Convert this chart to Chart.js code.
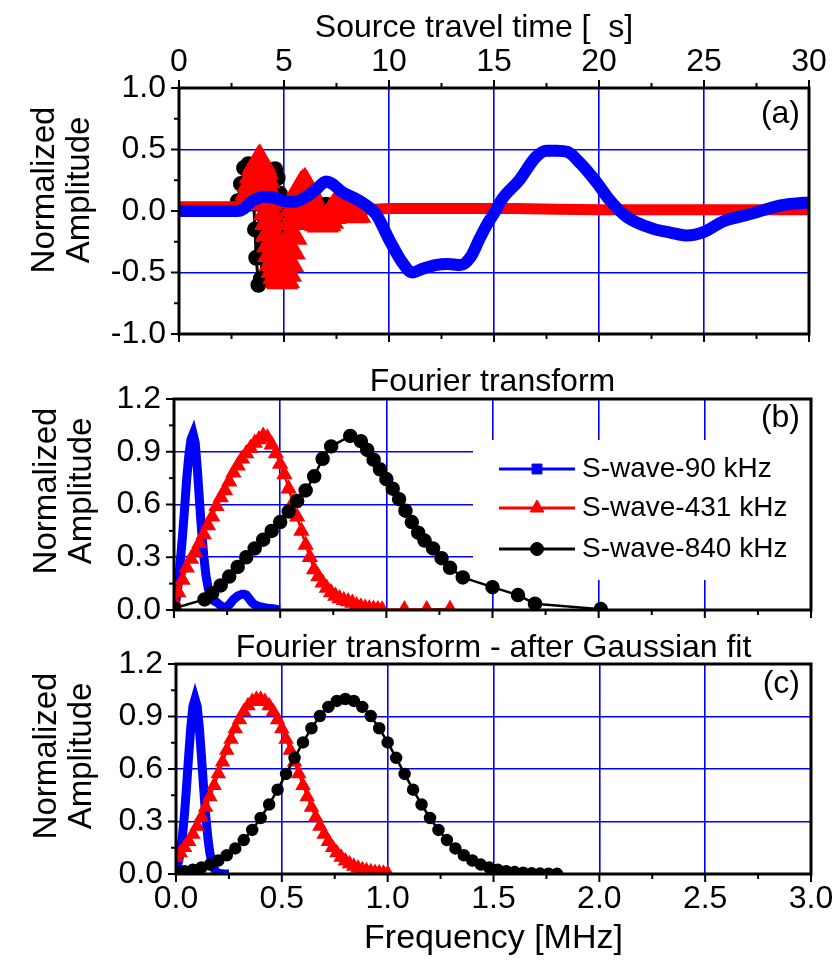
<!DOCTYPE html>
<html><head><meta charset="utf-8">
<script src="https://cdn.jsdelivr.net/npm/chart.js@4.4.1/dist/chart.umd.min.js"></script>
<style>
html,body{margin:0;padding:0;background:#fff;}
#wrap{position:relative;width:837px;height:960px;overflow:hidden;background:#fff;}
#wrap canvas{position:absolute;left:0;top:0;}
</style></head><body>
<div id="wrap">
<canvas id="ca" width="837" height="960"></canvas>
<canvas id="cb" width="837" height="960"></canvas>
<canvas id="cc" width="837" height="960"></canvas>
</div>
<script>
// ---------- DATA ----------
const seriesNames = ['S-wave-90 kHz','S-wave-431 kHz','S-wave-840 kHz'];
const yTitleLines = ['Normalized', 'Amplitude'];
const timeTitle = 'Source travel time [  s]';
const timeTicks = [0,5,10,15,20,25,30];
const freqTicks = [0,0.5,1.0,1.5,2.0,2.5,3.0];

// Panel (a): source travel time [µs] vs normalized amplitude
const sigA90 = [[0,0.0],[1,0.0],[2,0.0],[2.8,0.0],[3.1,0.02],[3.4,0.07],[3.7,0.1],[4.0,0.115],[4.5,0.11],[5.0,0.08],[5.5,0.075],[6.0,0.11],[6.5,0.17],[7.0,0.24],[7.3,0.22],[7.8,0.15],[8.3,0.11],[8.8,0.06],[9.4,-0.03],[10.0,-0.23],[10.6,-0.41],[11.1,-0.5],[11.6,-0.47],[12.2,-0.44],[12.8,-0.43],[13.4,-0.44],[13.9,-0.37],[14.3,-0.23],[14.7,-0.1],[15.0,-0.02],[15.4,0.1],[16.2,0.25],[17.0,0.44],[17.5,0.49],[18.0,0.49],[18.5,0.48],[19.1,0.39],[19.9,0.23],[20.5,0.09],[21.3,-0.045],[22.6,-0.145],[23.4,-0.175],[24.2,-0.2],[25.0,-0.17],[25.9,-0.085],[26.6,-0.05],[27.3,-0.02],[28.5,0.04],[29.3,0.06],[30,0.07]];
const sigA431 = [[0,0.035],[1,0.035],[2,0.035],[2.8,0.035],[3.2,0.05],[3.3,0.1],[3.4,0.16],[3.5,0.23],[3.6,0.3],[3.7,0.36],[3.78,0.39],[3.85,0.40],[3.92,0.37],[4.0,0.33],[4.08,0.26],[4.15,0.18],[4.22,0.08],[4.28,0.0],[4.33,-0.08],[4.38,-0.17],[4.43,-0.26],[4.48,-0.34],[4.55,-0.41],[4.63,-0.47],[4.72,-0.52],[4.82,-0.55],[4.92,-0.56],[5.0,-0.55],[5.1,-0.5],[5.2,-0.42],[5.28,-0.32],[5.36,-0.2],[5.44,-0.08],[5.52,0.03],[5.6,0.1],[5.7,0.15],[5.8,0.18],[5.9,0.2],[6.0,0.21],[6.1,0.18],[6.2,0.13],[6.3,0.07],[6.4,0.02],[6.5,-0.03],[6.6,-0.07],[6.72,-0.09],[6.85,-0.1],[6.97,-0.09],[7.1,-0.07],[7.22,-0.03],[7.35,0.0],[7.48,0.03],[7.6,0.05],[7.72,0.04],[7.85,0.02],[7.97,0.0],[8.1,-0.02],[8.25,-0.025],[8.4,-0.02],[8.6,0.0],[8.8,0.01],[10,0.02],[12,0.02],[14,0.02],[16,0.02],[18,0.015],[20,0.01],[22,0.01],[24,0.01],[26,0.01],[28,0.01],[30,0.01]];
const sigA840 = [[0,0.0],[1,0.0],[2,0.0],[2.6,0.0],[2.8,0.08],[2.95,0.22],[3.1,0.35],[3.3,0.38],[3.45,0.3],[3.55,0.1],[3.62,-0.15],[3.68,-0.38],[3.78,-0.6],[3.9,-0.55],[3.98,-0.3],[4.05,-0.05],[4.15,0.12],[4.3,0.24],[4.45,0.31],[4.58,0.34],[4.7,0.27],[4.8,0.14],[4.9,0.0],[5.0,-0.13],[5.12,-0.15],[5.3,-0.08],[5.6,-0.02],[5.9,-0.05],[6.3,0.0],[6.7,0.04],[7.0,0.05],[7.4,0.0],[7.8,-0.03],[8.3,-0.01],[9,0.0],[11,-0.01],[13,-0.01],[15,-0.01],[17,-0.01],[19,-0.01],[21,-0.01],[23,-0.01],[25,-0.01],[27,-0.01],[29,-0.01],[30,-0.01]];

// Panel (b): Fourier transform, frequency [MHz]
const ftB90 = [[0,0.02],[0.01,0.06],[0.02,0.15],[0.03,0.28],[0.04,0.42],[0.05,0.58],[0.06,0.75],[0.07,0.88],[0.08,0.97],[0.09,1.0],[0.1,0.95],[0.11,0.8],[0.12,0.62],[0.13,0.45],[0.14,0.31],[0.15,0.2],[0.16,0.13],[0.17,0.08],[0.18,0.06],[0.19,0.05],[0.2,0.045],[0.21,0.035],[0.22,0.025],[0.23,0.018],[0.24,0.015],[0.25,0.02],[0.26,0.03],[0.27,0.045],[0.28,0.06],[0.29,0.07],[0.3,0.08],[0.31,0.085],[0.32,0.09],[0.33,0.09],[0.34,0.085],[0.35,0.07],[0.36,0.055],[0.37,0.04],[0.38,0.03],[0.39,0.025],[0.4,0.02],[0.42,0.015],[0.44,0.01],[0.46,0.008],[0.48,0.005],[0.5,0.003]];
const ftB431 = [[0,0.05],[0.02,0.10],[0.04,0.17],[0.06,0.24],[0.08,0.29],[0.1,0.33],[0.12,0.38],[0.14,0.43],[0.16,0.48],[0.18,0.53],[0.2,0.59],[0.22,0.64],[0.24,0.68],[0.26,0.73],[0.28,0.78],[0.3,0.82],[0.32,0.86],[0.34,0.89],[0.36,0.92],[0.38,0.95],[0.4,0.97],[0.42,0.99],[0.44,0.98],[0.46,0.94],[0.48,0.89],[0.5,0.83],[0.52,0.77],[0.54,0.69],[0.56,0.61],[0.58,0.53],[0.6,0.45],[0.62,0.37],[0.64,0.30],[0.66,0.23],[0.68,0.19],[0.7,0.155],[0.72,0.125],[0.74,0.10],[0.76,0.08],[0.78,0.065],[0.8,0.055],[0.82,0.048],[0.84,0.04],[0.86,0.025],[0.88,0.018],[0.9,0.012],[0.92,0.008],[0.94,0.005],[0.96,0.003],[0.98,0.002],[1.085,0.003],[1.19,0.003],[1.3,0.005]];
const ftB840 = [[0,0.01],[0.144,0.06],[0.18,0.095],[0.22,0.14],[0.26,0.19],[0.3,0.245],[0.34,0.30],[0.38,0.35],[0.42,0.40],[0.46,0.45],[0.5,0.50],[0.54,0.56],[0.58,0.62],[0.62,0.68],[0.66,0.76],[0.7,0.86],[0.74,0.93],[0.83,0.99],[0.88,0.96],[0.91,0.91],[0.94,0.855],[0.97,0.80],[1.0,0.745],[1.03,0.69],[1.06,0.63],[1.09,0.565],[1.12,0.50],[1.15,0.44],[1.18,0.395],[1.22,0.35],[1.26,0.295],[1.3,0.24],[1.36,0.185],[1.5,0.13],[1.62,0.085],[1.7,0.036],[2.01,0.005]];

// Panel (c): Fourier transform after Gaussian fit
const fitC90 = [[0,0.03],[0.01,0.063],[0.02,0.12],[0.03,0.211],[0.04,0.339],[0.05,0.501],[0.06,0.678],[0.07,0.841],[0.08,0.958],[0.09,1.0],[0.1,0.958],[0.11,0.841],[0.12,0.678],[0.13,0.501],[0.14,0.339],[0.15,0.211],[0.16,0.12],[0.17,0.063],[0.18,0.03],[0.19,0.013],[0.2,0.005],[0.21,0.002],[0.22,0.001],[0.23,0],[0.24,0],[0.25,0]];
const fitC431 = [[0,0.096],[0.02,0.121],[0.04,0.151],[0.06,0.186],[0.08,0.227],[0.1,0.273],[0.12,0.325],[0.14,0.381],[0.16,0.442],[0.18,0.506],[0.2,0.573],[0.22,0.64],[0.24,0.707],[0.26,0.77],[0.28,0.83],[0.3,0.882],[0.32,0.927],[0.34,0.962],[0.36,0.986],[0.38,0.998],[0.4,0.998],[0.42,0.986],[0.44,0.962],[0.46,0.927],[0.48,0.882],[0.5,0.83],[0.52,0.77],[0.54,0.707],[0.56,0.64],[0.58,0.573],[0.6,0.506],[0.62,0.442],[0.64,0.381],[0.66,0.325],[0.68,0.273],[0.7,0.227],[0.72,0.186],[0.74,0.151],[0.76,0.121],[0.78,0.096],[0.8,0.075],[0.82,0.058],[0.84,0.044],[0.86,0.033],[0.88,0.025],[0.9,0.018],[0.92,0.013],[0.94,0.009],[0.96,0.007],[0.98,0.005],[1.0,0.003]];
const fitC840 = [[0,0.011],[0.04,0.016],[0.08,0.025],[0.12,0.037],[0.16,0.054],[0.2,0.077],[0.24,0.107],[0.28,0.146],[0.32,0.194],[0.36,0.252],[0.4,0.32],[0.44,0.397],[0.48,0.482],[0.52,0.572],[0.56,0.664],[0.6,0.752],[0.64,0.833],[0.68,0.903],[0.72,0.955],[0.76,0.989],[0.8,1.0],[0.84,0.989],[0.88,0.955],[0.92,0.903],[0.96,0.833],[1.0,0.752],[1.04,0.664],[1.08,0.572],[1.12,0.482],[1.16,0.397],[1.2,0.32],[1.24,0.252],[1.28,0.194],[1.32,0.146],[1.36,0.107],[1.4,0.077],[1.44,0.054],[1.48,0.037],[1.52,0.025],[1.56,0.016],[1.6,0.011],[1.64,0.007],[1.68,0.004],[1.72,0.0025],[1.76,0.0015],[1.8,0.001]];

// ---------- STYLE / HELPERS ----------
const FONT = "'Liberation Sans', Arial, Helvetica, sans-serif";
Chart.defaults.font.family = FONT;
Chart.defaults.color = '#000';
const BLUE = '#0000ff', RED = '#ff0000', BLACK = '#000000', GRID = '#0000ff';
const TICKFONT = {size: 32};

function pts(arr){ return arr.map(p => ({x: p[0], y: p[1]})); }
// markers / thin line only inside the oscillating part of panel (a)
function markerIn(lo, hi, r){ return ctx => (ctx.raw && ctx.raw.x >= lo && ctx.raw.x <= hi) ? r : 0; }
function segWidth(lo, hi, thin, thick){ return ctx => (ctx.p0.parsed.x >= lo && ctx.p1.parsed.x <= hi) ? thin : thick; }

function yScale(min, max, step, width){
  return {
    type: 'linear', position: 'left', min: min, max: max,
    ticks: {stepSize: step, font: TICKFONT, padding: 13, color: '#000', autoSkip: false,
            callback: v => Number(v).toFixed(1)},
    grid: {color: GRID, lineWidth: 1.6, drawTicks: false},
    border: {display: false},
    title: {display: false},
    afterFit(s){ s.width = width; s.paddingTop = 0; s.paddingBottom = 0; }
  };
}

function framePlugin(cfg){
  return {
    id: 'frame' + cfg.letter.replace(/\W/g, ''),
    beforeDatasetsDraw(chart){
      if (cfg.box){
        const c = chart.ctx; c.save(); c.fillStyle = '#fff';
        c.fillRect(cfg.box[0], cfg.box[1], cfg.box[2], cfg.box[3]); c.restore();
      }
    },
    afterDatasetsDraw(chart){
      const c = chart.ctx, a = chart.chartArea;
      c.save();
      if (cfg.legend){
        cfg.legend.forEach((L, i) => {
          const ds = chart.data.datasets[i];
          c.strokeStyle = L.color; c.lineWidth = 3;
          c.beginPath(); c.moveTo(L.x0, L.y); c.lineTo(L.x1, L.y); c.stroke();
          c.fillStyle = L.color; c.strokeStyle = L.color; c.lineWidth = 1;
          Chart.helpers.drawPoint(c, {pointStyle: L.style, radius: L.r, rotation: 0, borderWidth: 1}, (L.x0 + L.x1) / 2, L.y);
          c.fillStyle = '#000'; c.font = '28px ' + FONT; c.textAlign = 'left'; c.textBaseline = 'middle';
          c.fillText(ds.label, L.tx, L.y);
        });
      }
      c.fillStyle = '#000';
      c.font = '32px ' + FONT; c.textAlign = 'right'; c.textBaseline = 'middle';
      c.fillText(cfg.letter, cfg.lx, cfg.ly);
      if (cfg.topTitle){
        c.font = '32px ' + FONT; c.textAlign = 'center'; c.textBaseline = 'middle';
        c.fillText(cfg.topTitle, cfg.ttx, cfg.tty);
      }
      c.save();
      c.font = '33px ' + FONT; c.textAlign = 'center'; c.textBaseline = 'middle';
      c.translate(cfg.ytx, cfg.yty); c.rotate(-Math.PI / 2);
      yTitleLines.forEach((t, i) => c.fillText(t, 0, i * 35));
      c.restore();
      c.strokeStyle = '#000'; c.lineWidth = 2;
      cfg.ticks.forEach(t => {
        const sc = chart.scales[t.scale];
        const n = Math.round((t.max - t.min) / t.step);
        for (let i = 0; i <= n; i++){
          const v = t.min + i * t.step;
          const len = (i % 2 === 0) ? 8 : 5;
          const p = sc.getPixelForValue(v);
          c.beginPath();
          if (t.side === 'left'){ c.moveTo(a.left, p); c.lineTo(a.left - len, p); }
          else if (t.side === 'bottom'){ c.moveTo(p, a.bottom); c.lineTo(p, a.bottom + len); }
          else { c.moveTo(p, a.top); c.lineTo(p, a.top - len); }
          c.stroke();
        }
      });
      c.lineWidth = 3;
      c.strokeRect(a.left, a.top, a.right - a.left, a.bottom - a.top);
      c.restore();
    }
  };
}

const commonPlugins = {legend: {display: false}, tooltip: {enabled: false}};

// ---------- PANEL (a) ----------
new Chart(document.getElementById('ca'), {
  type: 'line',
  data: {datasets: [
    {label: seriesNames[0], data: pts(sigA90), borderColor: BLUE, backgroundColor: BLUE, borderWidth: 12, pointRadius: 0, cubicInterpolationMode: 'monotone', fill: false},
    {label: seriesNames[1], data: pts(sigA431), borderColor: RED, backgroundColor: RED, borderWidth: 11,
     segment: {borderWidth: segWidth(3.2, 8.8, 2.5, 11)},
     pointStyle: 'triangle', pointRadius: markerIn(3.3, 8.4, 7.5), pointBackgroundColor: RED, pointBorderColor: RED, fill: false},
    {label: seriesNames[2], data: pts(sigA840), borderColor: BLACK, backgroundColor: BLACK, borderWidth: 3, pointStyle: 'circle', pointRadius: markerIn(2.7, 8.3, 6.5), pointBackgroundColor: BLACK, pointBorderColor: BLACK, fill: false}
  ]},
  options: {
    responsive: false, animation: false, events: [],
    layout: {padding: {left: 0, right: 28, top: 0, bottom: 626}},
    plugins: commonPlugins,
    scales: {
      x: {type: 'linear', position: 'top', min: timeTicks[0], max: timeTicks[timeTicks.length - 1],
          ticks: {stepSize: 5, font: TICKFONT, padding: 7, autoSkip: false, callback: v => String(v)},
          grid: {color: GRID, lineWidth: 1.6, drawTicks: false}, border: {display: false},
          title: {display: false},
          afterFit(s){ s.height = 88; s.paddingLeft = 0; s.paddingRight = 0; }},
      y: yScale(-1, 1, 0.5, 179)
    }
  },
  plugins: [framePlugin({letter: '(a)', lx: 800, ly: 114, topTitle: timeTitle, ttx: 474, tty: 28,
    ytx: 45, yty: 190,
    ticks: [{scale: 'y', side: 'left', min: -1, max: 1, step: 0.25},
            {scale: 'x', side: 'top', min: 0, max: 30, step: 2.5},
            {scale: 'x', side: 'bottom', min: 0, max: 30, step: 2.5}]})]
});

// ---------- PANEL (b) ----------
new Chart(document.getElementById('cb'), {
  type: 'line',
  data: {datasets: [
    {label: seriesNames[0], data: pts(ftB90), order: 2, borderColor: BLUE, backgroundColor: BLUE, borderWidth: 9, pointStyle: 'rect', pointRadius: 0, fill: false},
    {label: seriesNames[1], data: pts(ftB431), order: 1, borderColor: RED, backgroundColor: RED, borderWidth: 2.5, pointStyle: 'triangle', pointRadius: 7, pointBackgroundColor: RED, pointBorderColor: RED, fill: false},
    {label: seriesNames[2], data: pts(ftB840), order: 0, borderColor: BLACK, backgroundColor: BLACK, borderWidth: 2.5, pointStyle: 'circle', pointRadius: 6, pointBackgroundColor: BLACK, pointBorderColor: BLACK, fill: false}
  ]},
  options: {
    responsive: false, animation: false, events: [],
    layout: {padding: {left: 0, right: 26, top: 360, bottom: 350}},
    plugins: commonPlugins,
    scales: {
      x: {type: 'linear', position: 'top', min: freqTicks[0], max: freqTicks[freqTicks.length - 1],
          ticks: {display: false, stepSize: 0.5},
          grid: {color: GRID, lineWidth: 1.6, drawTicks: false}, border: {display: false},
          title: {display: true, text: 'Fourier transform', font: {size: 32}, padding: {top: 3, bottom: 0}},
          afterFit(s){ s.height = 39; s.paddingLeft = 0; s.paddingRight = 0; }},
      y: yScale(0, 1.2, 0.3, 174)
    }
  },
  plugins: [framePlugin({letter: '(b)', lx: 800, ly: 418, box: [473, 440, 338, 140],
    ytx: 47, yty: 491,
    legend: [{color: BLUE, style: 'rect', r: 7, x0: 499, x1: 575, y: 469, tx: 582},
             {color: RED, style: 'triangle', r: 8, x0: 499, x1: 575, y: 508, tx: 582},
             {color: BLACK, style: 'circle', r: 6.5, x0: 499, x1: 575, y: 549, tx: 582}],
    ticks: [{scale: 'y', side: 'left', min: 0, max: 1.2, step: 0.15},
            {scale: 'x', side: 'bottom', min: 0, max: 3, step: 0.25}]})]
});

// ---------- PANEL (c) ----------
new Chart(document.getElementById('cc'), {
  type: 'line',
  data: {datasets: [
    {label: seriesNames[0], data: pts(fitC90), order: 2, borderColor: BLUE, backgroundColor: BLUE, borderWidth: 9, pointStyle: 'rect', pointRadius: 0, fill: false},
    {label: seriesNames[1], data: pts(fitC431), order: 1, borderColor: RED, backgroundColor: RED, borderWidth: 2.5, pointStyle: 'triangle', pointRadius: 6.5, pointBackgroundColor: RED, pointBorderColor: RED, fill: false},
    {label: seriesNames[2], data: pts(fitC840), order: 0, borderColor: BLACK, backgroundColor: BLACK, borderWidth: 2.5, pointStyle: 'circle', pointRadius: 5, pointBackgroundColor: BLACK, pointBorderColor: BLACK, fill: false}
  ]},
  options: {
    responsive: false, animation: false, events: [],
    layout: {padding: {left: 0, right: 26, top: 622, bottom: 0}},
    plugins: commonPlugins,
    scales: {
      x: {type: 'linear', position: 'bottom', min: freqTicks[0], max: freqTicks[freqTicks.length - 1],
          ticks: {stepSize: 0.5, font: TICKFONT, padding: 6, autoSkip: false, callback: v => Number(v).toFixed(1)},
          grid: {color: GRID, lineWidth: 1.6, drawTicks: false}, border: {display: false},
          title: {display: true, text: 'Frequency [MHz]', font: {size: 34}, padding: {top: 0, bottom: 1}},
          afterFit(s){ s.height = 86; s.paddingLeft = 0; s.paddingRight = 0; }},
      xt: {type: 'linear', position: 'top', min: 0, max: 3,
          ticks: {display: false}, grid: {display: false}, border: {display: false},
          title: {display: true, text: 'Fourier transform - after Gaussian fit', font: {size: 32}, padding: {top: 7, bottom: 0}},
          afterFit(s){ s.height = 42; s.paddingLeft = 0; s.paddingRight = 0; }},
      y: yScale(0, 1.2, 0.3, 176)
    }
  },
  plugins: [framePlugin({letter: '(c)', lx: 800, ly: 684,
    ytx: 47, yty: 756,
    ticks: [{scale: 'y', side: 'left', min: 0, max: 1.2, step: 0.15},
            {scale: 'x', side: 'bottom', min: 0, max: 3, step: 0.25}]})]
});
</script>
</body></html>
